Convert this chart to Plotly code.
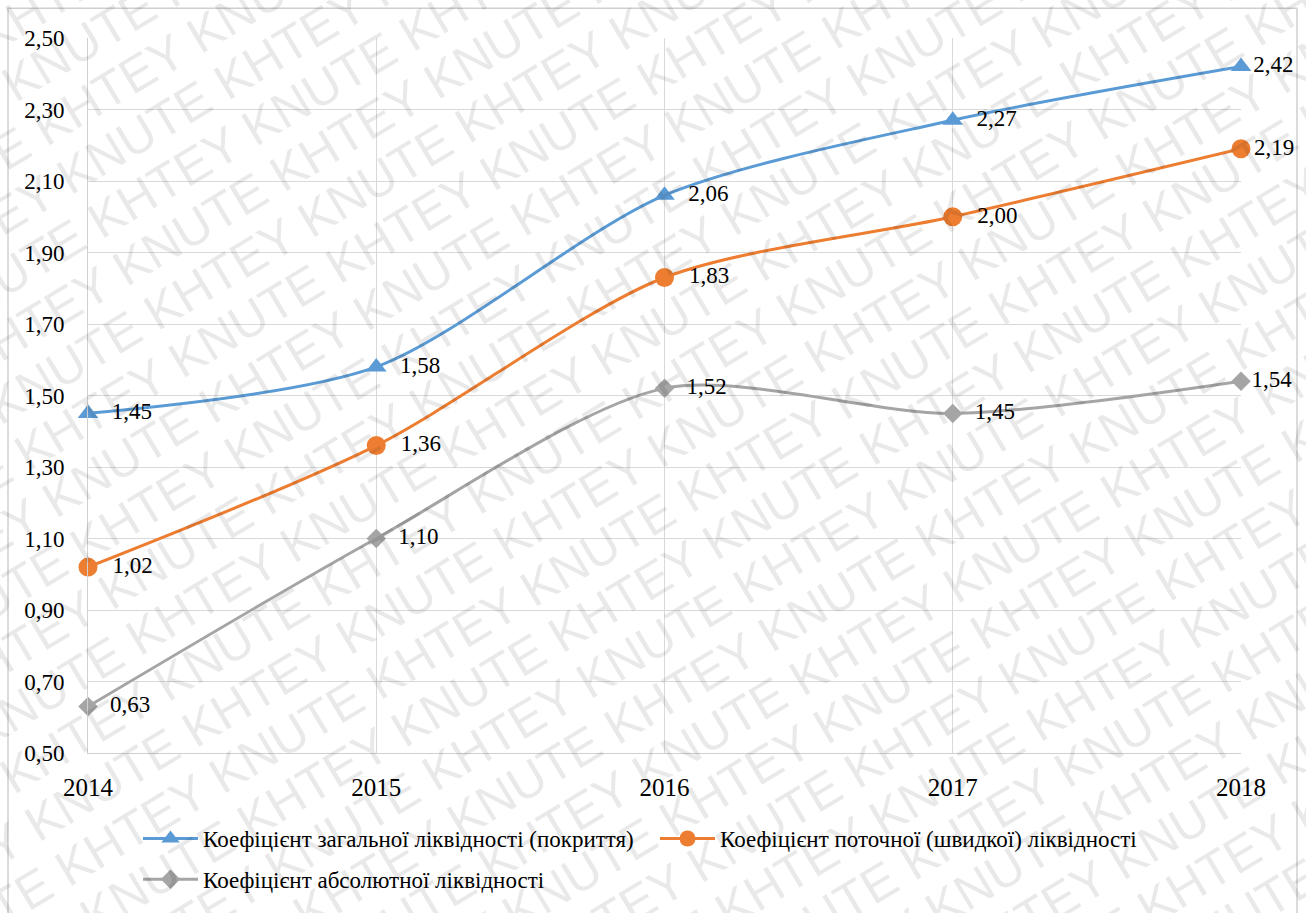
import math
import plotly.graph_objects as go

years = [2014, 2015, 2016, 2017, 2018]
total_liq = [1.45, 1.58, 2.06, 2.27, 2.42]
current_liq = [1.02, 1.36, 1.83, 2.00, 2.19]
absolute_liq = [0.63, 1.10, 1.52, 1.45, 1.54]

names = [
    "Коефіцієнт загальної ліквідності (покриття)",
    "Коефіцієнт поточної (швидкої) ліквідності",
    "Коефіцієнт абсолютної ліквідності",
]
colors = ["#5B9BD5", "#ED7D31", "#A5A5A5"]
symbols = ["triangle-up", "circle", "diamond"]
msizes = [18, 19, 15]
legends = ["legend", "legend", "legend2"]
series = [total_liq, current_liq, absolute_liq]

FONT = "Liberation Serif, Times New Roman, serif"

def fmt(v, last):
    s = f"{v:.2f}".replace(".", ",")
    return s if last else "  " + s

fig = go.Figure()
for name, vals, col, sym, ms, lg in zip(names, series, colors, symbols, msizes, legends):
    n = len(vals)
    fig.add_trace(go.Scatter(
        x=years, y=vals, name=name, legend=lg,
        mode="lines+markers+text",
        line=dict(color=col, width=3, shape="spline", smoothing=0.8),
        marker=dict(symbol=sym, size=ms, color=col, line=dict(width=0)),
        text=[fmt(v, i == n - 1) for i, v in enumerate(vals)],
        textposition="middle right",
        textfont=dict(family=FONT, size=23, color="#000000"),
        cliponaxis=False,
    ))

# Plot geometry (pixels) for decorative placement
L, T, R, B = 88, 38, 1241, 757
PW, PH = R - L, B - T

def px(x):
    return (x - L) / PW

def py(y):
    return (B - y) / PH

# watermark
ang = 31.0
a = math.radians(ang)
nx, ny = math.sin(a), math.cos(a)
cx, cy = 653, 456
spacing = 54
annotations = []
for k in range(-16, 17):
    wx = cx + k * spacing * nx
    wy = cy + k * spacing * ny
    txt = ("KHTEY KNUTE " if k % 2 == 0 else "KNUTE KHTEY ") * 7
    annotations.append(dict(
        x=px(wx), y=py(wy), xref="paper", yref="paper",
        text=txt, showarrow=False, textangle=-ang,
        font=dict(family="Liberation Sans, Arial, sans-serif",
                  size=50, color="rgba(0,0,0,0.085)"),
        xanchor="center", yanchor="middle",
    ))

leg_common = dict(
    orientation="h", xanchor="left", yanchor="middle",
    font=dict(family=FONT, size=23, color="#000000"),
    bgcolor="rgba(0,0,0,0)", itemwidth=55,
    entrywidth=447, entrywidthmode="pixels",
)

fig.update_layout(
    width=1306, height=913, autosize=False,
    margin=dict(l=L, r=1306 - R, t=T, b=913 - B),
    paper_bgcolor="white", plot_bgcolor="white",
    separators=", ",
    font=dict(family=FONT, size=21, color="#000000"),
    showlegend=True,
    legend=dict(x=px(138), y=py(843), **leg_common),
    legend2=dict(x=px(138), y=py(884), **leg_common),
    annotations=annotations,
    shapes=[dict(type="rect", xref="paper", yref="paper",
                 x0=px(8), x1=px(1297), y0=py(940), y1=py(8),
                 line=dict(color="#CFCFCF", width=1.5), layer="above")],
)
fig.update_xaxes(
    range=[2014, 2018], tickvals=years, ticktext=[str(y) for y in years],
    showgrid=True, gridcolor="#D9D9D9", gridwidth=1,
    showline=True, linecolor="#D0D0D0", linewidth=1, mirror=False,
    zeroline=False, ticks="", ticklabelstandoff=12,
    tickfont=dict(family=FONT, size=25, color="#000000"),
)
fig.update_yaxes(
    range=[0.5, 2.5], dtick=0.2, tick0=0.5, tickformat=".2f",
    showgrid=True, gridcolor="#D9D9D9", gridwidth=1,
    showline=True, linecolor="#D0D0D0", linewidth=1,
    zeroline=False, ticks="", ticklabelstandoff=18,
    tickfont=dict(family=FONT, size=23, color="#000000"),
)
fig.write_html("out.html")
